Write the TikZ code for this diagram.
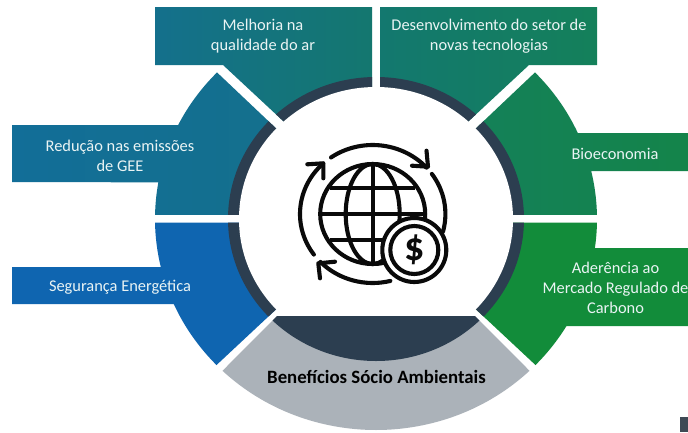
\documentclass[tikz,border=0pt]{standalone}
\usepackage{fontspec}
\setmainfont{Carlito}
\usetikzlibrary{arrows.meta}
\definecolor{ringdark}{HTML}{2C3E50}
\definecolor{softgray}{HTML}{ABB2B9}
\definecolor{labelwhite}{HTML}{EAF4F4}
\definecolor{iconblack}{HTML}{0A0A0A}
\definecolor{tealL}{HTML}{14708C}
\definecolor{tealR}{HTML}{14776F}
\definecolor{desL}{HTML}{13786F}
\definecolor{desR}{HTML}{14805A}
\definecolor{reduL}{HTML}{126E98}
\definecolor{reduR}{HTML}{14708C}
\definecolor{segu}{HTML}{0F65B0}
\definecolor{bioL}{HTML}{14805A}
\definecolor{bioR}{HTML}{14844A}
\definecolor{ader}{HTML}{128C3A}
\definecolor{cornerdark}{HTML}{3F4A55}
% point on the outer ellipse, y grows downward
\newcommand\ep[1]{({376+221*cos(#1)},{219+211*sin(#1)})}
\newcommand\outerarc[2]{arc[start angle=#1,end angle=#2,x radius=221,y radius=211]}
\newcommand\pathteal{(155,7) -- (372,7) -- (372,146) -- (310,146) -- (223,65) -- (155,65) -- cycle}
\newcommand\pathdesen{(380,7) -- (597,7) -- (597,65) -- (529,65) -- (442,146) -- (380,146) -- cycle}
\newcommand\pathreduc{(12,125) -- \ep{206.4} \outerarc{206.4}{224} -- (300,151) -- (300,215) -- \ep{181.1} \outerarc{181.1}{190} -- (12,182) -- cycle}
\newcommand\pathsegur{\ep{179} \outerarc{179}{166.85} -- (12,267) -- (12,304) -- \ep{156.2} \outerarc{156.2}{136.2} -- (300,287) -- (300,222.5) -- cycle}
\newcommand\pathbioec{(688,133) -- \ep{336} \outerarc{336}{316} -- (452,151) -- (452,215) -- \ep{358.9} \outerarc{358.9}{346.85} -- (688,171) -- cycle}
\newcommand\pathader{\ep{1} \outerarc{1}{7.9} -- (688,248) -- (688,326) -- \ep{30.5} \outerarc{30.5}{43.8} -- (452,287) -- (452,222.5) -- cycle}
\newcommand\pathgray{(277,316) -- (475,316) -- \ep{46} \outerarc{46}{134} -- cycle}
\tikzset{
  lbl/.style={text=labelwhite,font=\fontsize{16.4}{20}\selectfont,align=center,inner sep=0pt},
  ringfill/.style={fill=ringdark},
  icon/.style={draw=iconblack,line width=4.1pt},
  iconarc/.style={icon,line cap=round,line join=round},
}
\begin{document}
\begin{tikzpicture}[x=1pt,y=-1pt]
\useasboundingbox (0,0) rectangle (688,432);
\fill[white] (0,0) rectangle (688,432);
% coloured segments
\shade[left color=tealL,right color=tealR] \pathteal;
\shade[left color=desL,right color=desR] \pathdesen;
\shade[left color=reduL,right color=reduR] \pathreduc;
\fill[segu] \pathsegur;
\shade[left color=bioL,right color=bioR] \pathbioec;
\fill[ader] \pathader;
% dark inner ring, kept inside each segment
\foreach \seg in {\pathteal,\pathdesen,\pathreduc,\pathsegur,\pathbioec,\pathader}{
  \begin{scope}
    \clip \seg;
    \fill[ringfill] (376,219) ellipse[x radius=148,y radius=142];
  \end{scope}
}
\fill[white] (376,219) ellipse[x radius=137,y radius=132];
% bottom segment with its dark lens
\fill[softgray] \pathgray;
\begin{scope}
  \clip \pathgray;
  \fill[ringfill] (376,219) ellipse[x radius=148,y radius=142];
\end{scope}
% icon
\draw[icon] (372.7,214) ellipse[x radius=52.5,y radius=50];
\draw[icon] (372.7,214) ellipse[x radius=27,y radius=50];
\draw[icon] (372.7,164) -- (372.7,264);
\draw[icon] (330,187.7) -- (415,187.7);
\draw[icon] (321,214) -- (424.7,214);
\draw[icon] (330,240.3) -- (415,240.3);
\draw[iconarc] (372.7,214) ++({72.7*cos(235)},{69*sin(235)}) arc[start angle=235,end angle=317.8,x radius=72.7,y radius=69];
\draw[iconarc] (426.5,150.7) -- (428,166.7) -- (412,165.7);
\draw[iconarc] (372.7,214) ++({72.7*cos(144)},{69*sin(144)}) arc[start angle=144,end angle=227,x radius=72.7,y radius=69];
\draw[iconarc] (307.3,164.3) -- (323.3,163.3) -- (323.3,178.3);
\draw[iconarc] (372.7,214) ++({72.7*cos(-35.5)},{69*sin(-35.5)}) arc[start angle=-35.5,end angle=14.8,x radius=72.7,y radius=69];
\draw[iconarc] (372.7,214) ++({72.7*cos(76)},{69*sin(76)}) arc[start angle=76,end angle=136,x radius=72.7,y radius=69];
\draw[iconarc] (335,261.7) -- (318.3,263.3) -- (320,278.3);
\draw[icon,fill=white] (414.3,250) circle[radius=32];
\draw[icon] (414.3,250) circle[radius=24];
\node[inner sep=0pt,text=iconblack,font=\fontsize{40}{40}\selectfont\bfseries] (dollar) at (414.3,250) {\$};
% labels
\node[lbl] (melhoria) at (263,36.5) {Melhoria na\\qualidade do ar};
\node[lbl] (desenv) at (489,36.5) {Desenvolvimento do setor de\\novas tecnologias};
\node[lbl] (reducao) at (120,155.5) {Redução nas emissões\\de GEE};
\node[lbl] (seguranca) at (120,287.5) {Segurança Energética};
\node[lbl] (bioeconomia) at (615,153.5) {Bioeconomia};
\node[lbl] (aderencia) at (615.5,288) {Aderência ao\\Mercado Regulado de\\Carbono};
\node[inner sep=0pt,text=black,font=\fontsize{18.8}{22}\selectfont\bfseries] (beneficios) at (376.5,377) {Benefícios Sócio Ambientais};
% corner fragment
\fill[cornerdark] (680,417) rectangle (688,432);
\end{tikzpicture}
\end{document}
